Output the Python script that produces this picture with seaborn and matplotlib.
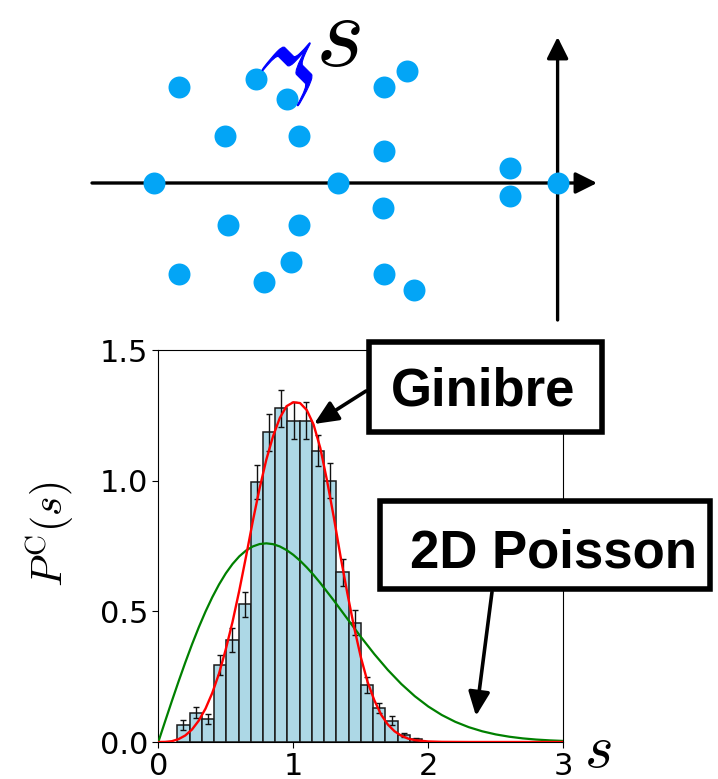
import numpy as np
import pandas as pd
import seaborn as sns
import matplotlib.pyplot as plt
from matplotlib.patches import Rectangle, PathPatch
from matplotlib.textpath import TextPath
from matplotlib.transforms import Affine2D

plt.rcParams['mathtext.fontset'] = 'cm'

# ---------------- data ----------------
# top panel: sample of eigenvalues (relative to the axes crossing)
pts_x = [-3.79, -3.02, -2.71, -1.74, -1.51, -3.33, -2.59, -1.74, -4.04, -2.20,
         -0.48, -0.48, 0.00, -3.30, -2.59, -1.75, -3.79, -2.94, -2.67, -1.74, -1.44]
pts_y = [0.96, 1.04, 0.84, 0.96, 1.12, 0.47, 0.47, 0.32, 0.00, 0.00,
         0.15, -0.13, 0.00, -0.42, -0.42, -0.25, -0.91, -0.99, -0.79, -0.91, -1.07]

# histogram of spacings
bin_centers = [0.186, 0.277, 0.368, 0.458, 0.549, 0.640, 0.730, 0.821, 0.912, 1.002,
               1.093, 1.184, 1.275, 1.365, 1.456, 1.547, 1.637, 1.728, 1.819, 1.909]
bar_heights = [0.065, 0.112, 0.088, 0.295, 0.390, 0.527, 0.995, 1.185, 1.277, 1.230,
               1.230, 1.115, 1.000, 0.649, 0.457, 0.218, 0.131, 0.082, 0.027, 0.010]
bar_errors = [0.019, 0.022, 0.019, 0.038, 0.045, 0.048, 0.064, 0.070, 0.071, 0.070,
              0.070, 0.060, 0.067, 0.052, 0.048, 0.032, 0.019, 0.016, 0.009, 0.005]
bin_width = 0.0907

# Ginibre curve
s_red = [0, 0.05, 0.1, 0.15, 0.2, 0.25, 0.3, 0.35, 0.4, 0.45, 0.5, 0.55, 0.6, 0.65,
         0.7, 0.75, 0.8, 0.85, 0.9, 0.95, 1.0, 1.05, 1.1, 1.15, 1.2, 1.25, 1.3, 1.35,
         1.4, 1.45, 1.5, 1.55, 1.6, 1.65, 1.7, 1.75, 1.8, 1.85, 1.9, 2.0, 2.1, 2.3, 2.6, 3.0]
p_red = [0, 0.0004, 0.003, 0.011, 0.025, 0.048, 0.082, 0.128, 0.188, 0.262, 0.355, 0.46,
         0.58, 0.71, 0.845, 0.97, 1.08, 1.17, 1.24, 1.285, 1.30, 1.297, 1.27, 1.215,
         1.125, 1.00, 0.86, 0.71, 0.57, 0.44, 0.325, 0.23, 0.16, 0.105, 0.067, 0.041,
         0.024, 0.013, 0.007, 0.002, 0.0005, 0, 0, 0]

# 2D Poisson curve
s_green = [0.0, 0.05, 0.1, 0.15, 0.2, 0.25, 0.3, 0.35, 0.4, 0.45, 0.5, 0.55, 0.6, 0.65,
           0.7, 0.75, 0.8, 0.85, 0.9, 0.95, 1.0, 1.05, 1.1, 1.15, 1.2, 1.3, 1.4, 1.5,
           1.6, 1.7, 1.8, 1.9, 2.0, 2.1, 2.2, 2.3, 2.4, 2.5, 2.6, 2.7, 2.8, 2.9, 3.0]
p_green = [0.0, 0.0784, 0.1559, 0.2315, 0.3044, 0.3739, 0.4391, 0.4994, 0.5541, 0.6029,
           0.6454, 0.6812, 0.7104, 0.7327, 0.7483, 0.7574, 0.7602, 0.7570, 0.7483, 0.7345,
           0.7162, 0.6938, 0.6680, 0.6394, 0.6083, 0.5416, 0.4718, 0.4025, 0.3365, 0.2759,
           0.2220, 0.1753, 0.1358, 0.1033, 0.0772, 0.0567, 0.0409, 0.0290, 0.0202, 0.0138,
           0.0093, 0.0062, 0.0040]

xticks = [0, 1, 2, 3]
yticks = [0.0, 0.5, 1.0, 1.5]
ytick_labels = ['0.0', '0.5', '1.0', '1.5']

# ---------------- figure ----------------
W, H = 718, 779
fig = plt.figure(figsize=(W / 100, H / 100), dpi=100)

# top panel (units: 100 px, origin at the axes crossing)
ax_top = fig.add_axes([0, 0, 1, 1])
ax_top.set_xlim(-557.6 / 100, (W - 557.6) / 100)
ax_top.set_ylim((183 - H) / 100, 183 / 100)
ax_top.axis('off')
arrow_kw = dict(arrowstyle='-|>,head_length=1.3,head_width=0.65', lw=2.4,
                color='black', shrinkA=0, shrinkB=0, mutation_scale=10)
ax_top.annotate('', xy=(0.394, 0), xytext=(-4.656, 0), arrowprops=arrow_kw)
ax_top.annotate('', xy=(0, 1.46), xytext=(0, -1.37), arrowprops=arrow_kw)
sns.scatterplot(x=pts_x, y=pts_y, s=250, color='#03a5f6', linewidth=0,
                ax=ax_top, zorder=5, legend=False)

# bottom panel
ax = fig.add_axes([158.3 / W, (H - 742) / H, (563.3 - 158.3) / W, (742 - 350) / H])
hist_df = pd.DataFrame({'s': bin_centers, 'h': bar_heights})
edges = [c - bin_width / 2 for c in bin_centers] + [bin_centers[-1] + bin_width / 2]
sns.histplot(data=hist_df, x='s', weights='h', bins=edges, color='#add8e6',
             edgecolor='#1a1a1a', linewidth=1.1, alpha=1.0, ax=ax)
ax.errorbar(bin_centers, bar_heights, yerr=bar_errors, fmt='none', ecolor='#111111',
            elinewidth=1.0, capsize=2.5, capthick=1.0, zorder=3)
sns.lineplot(x=s_green, y=p_green, color='#008000', lw=1.6, ax=ax, zorder=4)
sns.lineplot(x=s_red, y=p_red, color='#ff0000', lw=1.7, ax=ax, zorder=5)
ax.set_xlim(0, 3)
ax.set_ylim(0, 1.5)
ax.set_xticks(xticks)
ax.set_xticklabels([str(t) for t in xticks])
ax.set_yticks(yticks)
ax.set_yticklabels(ytick_labels)
ax.tick_params(labelsize=22, length=4, width=0.8)
ax.set_xlabel('')
ax.set_ylabel('')

fig.text(50 / W, 1 - 534 / H, r'$P^{\mathrm{C}}(s)$', rotation=90, fontsize=30,
         ha='center', va='center')
fig.text(598 / W, 1 - 751 / H, r'$s$', fontsize=44, ha='center', va='center')

# overlay (pixel coordinates) for annotations
ov = fig.add_axes([0, 0, 1, 1], zorder=10)
ov.set_xlim(0, W)
ov.set_ylim(H, 0)
ov.axis('off')
ov.patch.set_alpha(0)

ov.text(337.5, 37.5, r'$s$', fontsize=75, ha='center', va='center')

# curly brace between two neighbouring points, tip pointing to the label
blue = '#0000ff'
tp = TextPath((0, 0), r'$\}$', size=100)
bb = tp.get_extents()
norm = Affine2D().translate(-bb.x0, -(bb.y0 + bb.y1) / 2).scale(
    1 / (bb.x1 - bb.x0), 1 / (bb.y1 - bb.y0))
place = Affine2D(np.array([[30.0, -36.0, 280.0], [-45.0, -36.0, 88.0], [0, 0, 1]]))
brace_path = (norm + place).transform_path(tp)
ov.add_patch(PathPatch(brace_path, facecolor=blue, edgecolor=blue, lw=0.8, zorder=6))

box_font = dict(family='Liberation Sans', fontweight='bold', fontsize=38)
ov.add_patch(Rectangle((368.75, 341.75), 233.5, 90.5, lw=4, edgecolor='black',
                       facecolor='white', zorder=2))
ov.text(483.5, 405, 'Ginibre', ha='center', va='baseline', zorder=3, **box_font)
ov.add_patch(Rectangle((379.8, 500.8), 330.2, 88.1, lw=4, edgecolor='black',
                       facecolor='white', zorder=2))
ov.text(554, 567, '2D Poisson', ha='center', va='baseline', zorder=3, **box_font)

arr2 = dict(arrowstyle='-|>,head_length=1.45,head_width=0.65', lw=2.6, color='black',
            shrinkA=0, shrinkB=0, mutation_scale=10)
ov.annotate('', xy=(314, 424), xytext=(366, 391), arrowprops=arr2, zorder=4)
ov.annotate('', xy=(476, 716), xytext=(492, 592), arrowprops=arr2, zorder=4)

fig.savefig('out.png', dpi=100)
